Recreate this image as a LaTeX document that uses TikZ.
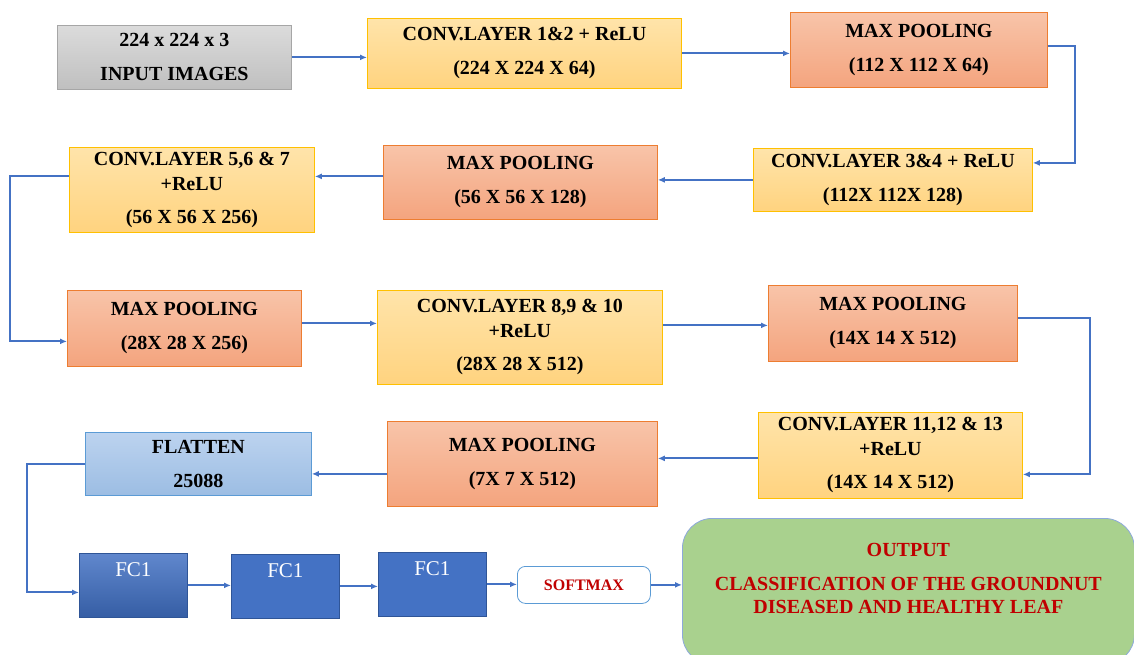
\documentclass[tikz,border=0pt]{standalone}
\usepackage{fontspec}
\setmainfont{Liberation Serif}
\usepackage{tikz}
\usetikzlibrary{arrows.meta}
\definecolor{convtop}{HTML}{FFE4AA}
\definecolor{convbot}{HTML}{FFD37F}
\definecolor{convline}{HTML}{FFC000}
\definecolor{pooltop}{HTML}{F8C4A9}
\definecolor{poolbot}{HTML}{F4A47E}
\definecolor{poolline}{HTML}{ED7D31}
\definecolor{flattop}{HTML}{BCD3EF}
\definecolor{flatbot}{HTML}{9CBDE3}
\definecolor{flatline}{HTML}{5B9BD5}
\definecolor{fcblue}{HTML}{4472C4}
\definecolor{fcline}{HTML}{2F5597}
\definecolor{outgreen}{HTML}{A9D18E}
\definecolor{outline}{HTML}{8EA9DB}
\definecolor{darkred}{HTML}{C00000}
\tikzstyle{box}=[draw, line width=0.8pt, anchor=north west, align=center, inner sep=0pt,
  font=\bfseries\fontsize{20}{25}\selectfont]
\tikzstyle{input}=[box, draw=black!35, top color=black!14, bottom color=black!25]
\tikzstyle{conv}=[box, draw=convline, top color=convtop, bottom color=convbot]
\tikzstyle{pool}=[box, draw=poolline, top color=pooltop, bottom color=poolbot]
\tikzstyle{flat}=[box, draw=flatline, top color=flattop, bottom color=flatbot]
\tikzstyle{fc}=[box, draw=fcline, fill=fcblue, text=white, font=\fontsize{21}{24}\selectfont,
  minimum width=108pt, minimum height=64pt, text height=14pt, text depth=32pt]
\tikzstyle{soft}=[box, draw=flatline, fill=white, rounded corners=8pt, text=darkred,
  font=\bfseries\fontsize{16}{18}\selectfont, minimum width=133pt, minimum height=37pt]
\tikzstyle{result}=[box, draw=outline, fill=outgreen, rounded corners=30pt, text=darkred,
  font=\bfseries\fontsize{20}{23}\selectfont]
\tikzstyle{link}=[draw=fcblue, line width=1.9pt, -{Latex[length=7pt,width=6pt]}]

\begin{document}
\begin{tikzpicture}[x=1pt,y=-1pt]
    \useasboundingbox (0,0) rectangle (1134,655);
    \clip (0,0) rectangle (1134,655);
    % row 1
    \node[input, minimum width=234pt, minimum height=64pt] (in_img) at (57,25)  {224 x 224 x 3\\[9pt]INPUT IMAGES};
    \node[conv, minimum width=314pt, minimum height=70pt]  (conv_1) at (367,18) {CONV.LAYER 1\&2 + ReLU\\[9pt](224 X 224 X 64)};
    \node[pool, minimum width=257pt, minimum height=75pt]  (pool_1) at (790,12) {MAX POOLING\\[9pt](112 X 112 X 64)};
    % row 2
    \node[conv, minimum width=279pt, minimum height=63pt]  (conv_2) at (753,148) {CONV.LAYER 3\&4 + ReLU\\[9pt](112X 112X 128)};
    \node[pool, minimum width=274pt, minimum height=74pt]  (pool_2) at (383,145) {MAX POOLING\\[9pt](56 X 56 X 128)};
    \node[conv, minimum width=245pt, minimum height=85pt]  (conv_3) at (69,147)  {CONV.LAYER 5,6 \& 7\\+ReLU\\[8pt](56 X 56 X 256)};
    % row 3
    \node[pool, minimum width=234pt, minimum height=76pt]  (pool_3) at (67,290)  {MAX POOLING\\[9pt](28X 28 X 256)};
    \node[conv, minimum width=285pt, minimum height=94pt]  (conv_4) at (377,290) {CONV.LAYER 8,9 \& 10\\+ReLU\\[8pt](28X 28 X 512)};
    \node[pool, minimum width=249pt, minimum height=76pt]  (pool_4) at (768,285) {MAX POOLING\\[9pt](14X 14 X 512)};
    % row 4
    \node[conv, minimum width=264pt, minimum height=86pt]  (conv_5) at (758,412) {CONV.LAYER 11,12 \& 13\\+ReLU\\[8pt](14X 14 X 512)};
    \node[pool, minimum width=270pt, minimum height=85pt]  (pool_5) at (387,421) {MAX POOLING\\[9pt](7X 7 X 512)};
    \node[flat, minimum width=226pt, minimum height=63pt]  (flat)   at (85,432)  {FLATTEN\\[9pt]25088};
    % row 5
    \node[fc, top color=fcblue!85!white, bottom color=fcline!70!fcblue] (fc_1) at (79,553)  {FC1};
    \node[fc] (fc_2) at (231,554) {FC1};
    \node[fc] (fc_3) at (378,552) {FC1};
    \node[soft] (smax) at (517,566) {SOFTMAX};
    \node[result, minimum width=452pt, minimum height=146pt] (out) at (682,518)
        {OUTPUT\\[11pt]CLASSIFICATION OF THE GROUNDNUT\\DISEASED AND HEALTHY LEAF\\[4pt]};

    % connectors
    \draw[link] (in_img.east) -- (in_img.east -| conv_1.west);
    \draw[link] (conv_1.east) -- (conv_1.east -| pool_1.west);
    \draw[link] ([yshift=4pt]pool_1.east) -- ++(27,0) |- ([yshift=17pt]conv_2.east);
    \draw[link] (conv_2.west) -- (conv_2.west -| pool_2.east);
    \draw[link] ([yshift=6pt]pool_2.west) -- ([yshift=6pt]pool_2.west -| conv_3.east);
    \draw[link] ([yshift=14pt]conv_3.west) -- ++(-59,0) |- ([yshift=-13pt]pool_3.west);
    \draw[link] ([yshift=5pt]pool_3.east) -- ([yshift=5pt]pool_3.east -| conv_4.west);
    \draw[link] ([yshift=12pt]conv_4.east) -- ([yshift=12pt]conv_4.east -| pool_4.west);
    \draw[link] ([yshift=5pt]pool_4.east) -- ++(72,0) |- ([yshift=-19pt]conv_5.east);
    \draw[link] ([yshift=-3pt]conv_5.west) -- ([yshift=-3pt]conv_5.west -| pool_5.east);
    \draw[link] ([yshift=-10pt]pool_5.west) -- ([yshift=-10pt]pool_5.west -| flat.east);
    \draw[link] (flat.west) -- ++(-58,0) |- ([yshift=-7pt]fc_1.west);
    \draw[link] (fc_1.east) -- (fc_1.east -| fc_2.west);
    \draw[link] (fc_2.east) -- (fc_2.east -| fc_3.west);
    \draw[link] (fc_3.east) -- (fc_3.east -| smax.west);
    \draw[link] (smax.east) -- (smax.east -| out.west);
\end{tikzpicture}
\end{document}
